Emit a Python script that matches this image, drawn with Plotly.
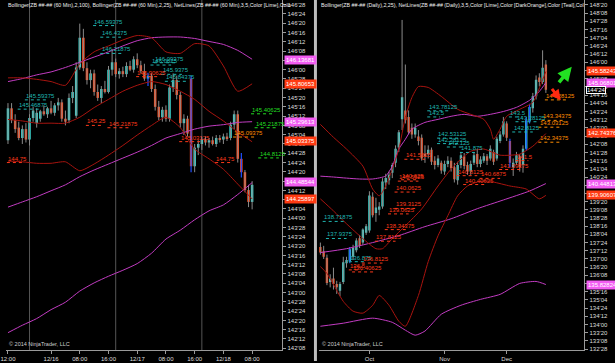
import plotly.graph_objects as go
import pandas as pd

# ================= LEFT PANEL (60 Min) =================
left_times = pd.date_range("2014-12-15 12:00", periods=69, freq="h")
left_open = [145.05,145.48,145.32,145.22,145.08,145.20,145.06,145.35,145.28,145.34,145.44,145.40,145.48,145.42,145.52,145.56,145.34,145.32,145.62,145.38,146.03,146.43,146.02,145.86,145.95,145.70,145.62,145.74,145.70,146.00,146.10,145.94,145.98,145.94,146.05,146.00,146.14,146.06,145.98,145.88,145.92,145.74,145.50,145.36,145.46,145.34,145.76,145.86,145.66,145.28,145.34,145.88,144.70,144.95,145.00,145.06,145.02,145.05,145.00,145.08,145.06,145.10,145.08,145.26,145.40,144.80,144.62,144.38,144.22]
left_high = [145.55,145.55,145.40,145.30,145.25,145.28,145.40,145.50,145.48,145.46,145.52,145.50,145.58,145.55,145.62,145.60,145.45,145.68,145.78,146.10,146.62,146.55,146.10,146.00,146.00,145.80,145.78,145.85,146.05,146.28,146.15,146.02,146.04,146.10,146.12,146.18,146.22,146.12,146.08,145.96,145.95,145.80,145.58,145.50,145.52,145.80,145.95,145.92,145.70,145.40,145.38,145.92,145.00,145.05,145.10,145.10,145.08,145.10,145.12,145.12,145.14,145.15,145.30,145.45,145.45,144.88,144.65,144.45,144.50]
left_low = [145.00,145.28,145.15,145.05,145.00,145.02,144.98,145.30,145.22,145.30,145.38,145.35,145.40,145.38,145.45,145.30,145.25,145.28,145.55,145.35,146.00,145.98,145.80,145.75,145.65,145.58,145.55,145.68,145.68,145.92,145.90,145.88,145.90,145.90,145.98,145.96,146.02,145.95,145.85,145.78,145.70,145.45,145.32,145.30,145.30,145.30,145.70,145.60,145.22,145.12,145.10,144.62,144.62,144.85,144.92,144.98,144.95,144.98,144.96,145.02,145.00,145.04,145.05,145.20,144.75,144.55,144.35,144.15,144.12]
left_close = [145.48,145.32,145.20,145.08,145.20,145.06,145.35,145.45,145.42,145.44,145.40,145.48,145.42,145.52,145.56,145.34,145.30,145.62,145.70,146.03,146.43,146.02,145.86,145.95,145.70,145.62,145.74,145.70,146.00,146.10,145.94,145.98,145.94,146.05,146.00,146.14,146.06,145.98,145.88,145.92,145.74,145.50,145.36,145.46,145.34,145.76,145.86,145.66,145.28,145.34,145.14,144.70,144.95,145.00,145.06,145.02,145.05,145.00,145.08,145.06,145.10,145.08,145.26,145.40,144.80,144.62,144.38,144.22,144.45]
left_signal_bars = [39, 51, 65]

left_band_idx = [0,4,8,12,16,20,24,28,32,36,40,44,48,52,56,60,64,68]
left_bb100_upper = [145.84,145.88,145.93,145.97,146.03,146.10,146.17,146.24,146.32,146.39,146.43,146.44,146.44,146.42,146.38,146.34,146.26,146.14]
left_bb100_mid   = [144.15,144.22,144.29,144.37,144.45,144.56,144.65,144.73,144.81,144.89,144.98,145.08,145.14,145.20,145.24,145.26,145.29,145.30]
left_bb100_lower = [142.46,142.56,142.65,142.77,142.87,143.02,143.13,143.22,143.30,143.39,143.53,143.72,143.84,143.98,144.10,144.18,144.32,144.48]
left_bb25_upper  = [145.89,145.89,145.87,145.84,145.79,146.08,146.24,146.32,146.40,146.46,146.43,146.24,146.22,146.35,146.32,146.05,145.71,145.81]
left_bb25_mid    = [145.33,145.31,145.28,145.28,145.28,145.36,145.49,145.60,145.71,145.79,145.84,145.80,145.71,145.60,145.44,145.31,145.16,145.03]
left_bb25_lower  = [144.77,144.76,144.74,144.74,144.76,144.64,144.73,144.85,144.98,145.12,145.25,145.36,145.22,144.93,144.80,144.66,144.46,144.26]

left_labels = ["145.59375","145.46875","146.59375","146.4375","146.21875","146.0625","146.09375","145.9375","145.84375",
               "145.90625","145.25","145.21875","144.75","144.75","145.03125","145.09375",
               "145.40625","145.21875","144.8125"]
left_label_bar = [5,3,24,26,26,40,41,43,44, 36,22,28,0,58,48,63, 68,69,70]
left_label_kind = ["teal"]*9 + ["red"]*6 + ["orange"] + ["lime"]*3

left_markers = ["146.13681","145.80653","145.29613","145.03375","144.48544","144.25897"]
left_marker_kind = ["magenta","red","magenta","red","magenta","red"]

# ================= RIGHT PANEL (Daily) =================
right_dates = pd.bdate_range("2014-09-10", "2014-12-17").drop(pd.Timestamp("2014-11-27"))
right_open = [137.55,137.35,137.05,135.95,136.10,135.85,135.55,135.95,136.80,136.90,137.10,137.40,137.95,137.75,138.20,138.30,139.85,139.10,139.25,139.40,140.50,140.60,140.95,141.40,142.10,143.40,143.80,143.50,143.00,142.70,142.60,142.55,141.80,141.80,142.00,141.50,141.30,141.40,141.00,141.35,141.50,141.20,140.60,141.30,141.70,141.30,141.00,141.40,141.80,141.35,141.50,141.70,141.60,141.90,141.60,142.40,142.70,143.20,142.40,141.20,141.40,141.70,141.30,142.05,143.30,143.90,144.45,145.30,145.10,145.90]
right_high = [137.75,137.60,137.20,136.30,136.60,136.00,135.95,137.10,137.10,137.55,137.65,137.95,138.10,138.40,138.60,140.10,140.05,139.80,139.60,140.70,140.90,141.00,141.40,142.20,142.90,147.94,145.90,143.80,143.20,143.20,142.90,142.70,142.20,142.20,142.10,141.70,141.75,141.50,141.50,141.70,141.65,141.40,141.45,141.90,141.85,141.45,141.50,141.90,142.00,141.70,141.85,141.80,142.20,142.00,142.60,142.85,143.50,143.30,142.50,141.60,141.90,141.80,142.20,143.50,144.10,144.60,145.40,145.50,146.55,146.10]
right_low = [137.20,137.00,135.80,135.70,135.60,135.40,135.30,135.85,136.60,136.80,136.95,137.30,137.50,137.65,138.10,138.20,138.90,138.70,139.00,139.30,140.20,140.40,140.70,141.20,141.90,142.90,143.20,142.70,142.50,142.55,142.20,141.50,141.40,141.60,141.30,141.10,141.20,140.90,140.85,141.20,141.00,140.50,140.40,141.15,141.10,140.85,140.85,141.30,141.20,141.20,141.40,141.30,141.50,141.30,141.50,142.30,142.60,142.40,141.20,140.80,141.30,141.00,140.95,141.95,143.20,143.70,144.30,144.90,145.00,144.60]
right_close = [137.30,137.10,135.90,136.10,135.85,135.70,135.85,136.85,136.95,137.45,137.50,137.85,137.60,138.35,138.50,139.90,139.00,139.35,139.40,140.55,140.70,140.85,141.30,142.05,142.80,144.40,143.35,142.80,142.70,143.00,142.40,141.60,141.70,142.00,141.45,141.30,141.60,141.05,141.35,141.50,141.15,140.65,141.30,141.75,141.25,141.00,141.35,141.75,141.35,141.55,141.70,141.50,142.05,141.45,142.50,142.70,143.30,142.55,141.40,141.40,141.75,141.20,142.05,143.35,143.95,144.45,145.20,145.10,145.75,144.75]
right_signal_bars = [9, 58, 63, 64]

right_bbA_upper_idx = [0,4,8,12,16,20,22,24,26,28,32,36,40,44,48,52,56,60,64,67,69]
right_bbA_upper = [140.79,140.75,140.70,140.66,140.66,140.80,141.25,142.03,142.48,142.94,143.25,143.39,143.53,143.62,143.53,143.62,143.75,143.94,144.26,144.67,145.07]
right_bbA_mid_idx = [0,8,16,24,32,40,48,56,64,69]
right_bbA_mid = [137.29,137.47,137.75,138.07,138.48,138.84,139.30,139.70,140.11,140.45]
right_bbA_lower_idx = [0,7,16,22,26,29,32,37,43,49,55,61,66,69]
right_bbA_lower = [133.92,134.06,134.29,134.10,133.74,133.51,133.70,134.47,134.88,135.15,135.38,135.88,135.97,135.83]
right_bbB_upper_idx = [0,4,8,13,16,18,20,22,24,26,28,30,33,37,42,46,50,52,53,55,57,61,65,68,69]
right_bbB_upper = [143.16,142.57,142.03,141.25,140.20,139.89,140.34,141.12,142.03,143.48,144.39,144.89,144.85,144.44,143.85,143.62,143.39,142.94,142.48,142.94,143.53,143.85,144.17,145.21,145.58]
right_bbB_mid_idx = [0,4,8,13,17,19,22,26,31,36,40,43,46,50,55,61,65,69]
right_bbB_mid = [139.75,139.20,138.61,137.93,137.47,137.47,137.93,138.52,139.29,140.34,141.12,141.57,141.93,142.03,141.75,141.80,142.16,142.74]
right_bbB_lower_idx = [0,2,7,10,13,16,18,21,24,26,30,33,36,39,42,45,48,51,53,58,63,67,69]
right_bbB_lower = [136.65,136.34,135.06,134.61,134.52,134.88,135.33,134.88,134.15,133.92,135.33,136.88,138.06,138.98,139.89,140.34,140.52,140.57,140.52,140.34,140.20,139.75,139.91]

right_labels = ["138.71875","137.9375","136.875","143.78125","143.5","142.53125","142.28125","142.125","141.875","143.5","143.28125","142.8125",
                "141.5625","140.625","140.5625","140.0625","139.3125","139.0625","138.34375","137.8125","136.8125","136.5","136.40625",
                "140.8125","140.6875","140.40625","141.5","141.09375",
                "142.34375","143.03125","143.34375","144.28125"]
right_label_bar = [1,2,9,33,33,36,36,39,43,58,60,59, 26,25,24,23,23,21,20,17,13,9,10, 42,49,44,60,55, 67,67,68,69]
right_label_kind = ["teal"]*12 + ["red"]*16 + ["orange"]*4

right_markers = ["145.58243","145.06801","142.74376","140.44813","139.90607","135.82824"]
right_marker_kind = ["red","magenta","red","magenta","red","magenta"]
right_last_price = "144'24"

# ================= STYLE =================
C_UP = "#3ad6cf"
C_DN = "#ff4a1c"
C_WICK = "#8a8a8a"
C_SIG = "#2050ff"
C_PURPLE = "#c23cc2"
C_DRED = "#a8140f"
LABEL_COL = {"teal": "#1fb5b0", "red": "#ff3a1a", "orange": "#ff8c00", "lime": "#22dd22"}
MARK_COL = {"magenta": "#f25cf2", "red": "#ff3a12"}
FONT = "Liberation Sans"

W, H = 615, 363
L_DOM = (0.0, 279 / W)
R_DOM = (316 / W, 584 / W)
Y_DOM = (11 / H, 1.0)


def p32(p):
    w = int(p)
    t = int(round((p - w) * 32))
    if t == 32:
        w, t = w + 1, 0
    return f"{w}'{t:02d}"


def frange(a, b, s):
    out, v = [], a
    while v <= b + 1e-9:
        out.append(round(v, 6))
        v += s
    return out


fig = go.Figure()


def add_candles(o, h, l, c, sig, xa, ya, width):
    n = len(o)
    idx = list(range(n))
    wx, wy, sx, sy = [], [], [], []
    for i in idx:
        if i in sig:
            sx += [i, i, None]
            sy += [l[i], h[i], None]
        else:
            wx += [i, i, None]
            wy += [l[i], h[i], None]
    fig.add_trace(go.Scatter(x=wx, y=wy, mode="lines", line=dict(color=C_WICK, width=1),
                             xaxis=xa, yaxis=ya, hoverinfo="skip", showlegend=False))
    base = [min(o[i], c[i]) for i in idx]
    hgt = [max(abs(c[i] - o[i]), 0.004) for i in idx]
    cols = [C_UP if c[i] >= o[i] else C_DN for i in idx]
    fig.add_trace(go.Bar(x=idx, y=hgt, base=base, width=width, marker=dict(color=cols, line=dict(width=0)),
                         xaxis=xa, yaxis=ya, hoverinfo="skip", showlegend=False))
    fig.add_trace(go.Scatter(x=sx, y=sy, mode="lines", line=dict(color=C_SIG, width=1.2),
                             xaxis=xa, yaxis=ya, hoverinfo="skip", showlegend=False))


def add_band(xs, ys, color, xa, ya):
    fig.add_trace(go.Scatter(x=xs, y=ys, mode="lines", line=dict(color=color, width=1, shape="spline", smoothing=0.6),
                             xaxis=xa, yaxis=ya, hoverinfo="skip", showlegend=False))


def add_labels(texts, bars, kinds, xa, ya, ppb):
    groups = {}
    for t, b, k in zip(texts, bars, kinds):
        v = float(t)
        ln = len(t) * 2.6 / ppb
        g = groups.setdefault(k, ([], []))
        g[0].extend([b - 0.3, b - 0.3 + ln, None])
        g[1].extend([v, v, None])
        fig.add_annotation(x=b - 0.5, y=v, xref=xa, yref=ya, text=t, showarrow=False,
                           xanchor="left", yanchor="bottom", yshift=-1,
                           font=dict(family=FONT, size=6, color=LABEL_COL[k]))
    for k, (gx, gy) in groups.items():
        fig.add_trace(go.Scatter(x=gx, y=gy, mode="lines", line=dict(color=LABEL_COL[k], width=1, dash="dot"),
                                 xaxis=xa, yaxis=ya, hoverinfo="skip", showlegend=False))


def add_markers(texts, kinds, xpaper, ya):
    for t, k in zip(texts, kinds):
        fig.add_annotation(x=xpaper, y=float(t), xref="paper", yref=ya, text=t, showarrow=False,
                           xanchor="left", yanchor="middle", bgcolor=MARK_COL[k], borderpad=1,
                           font=dict(family=FONT, size=6, color="white"))


# ---- left ----
add_candles(left_open, left_high, left_low, left_close, left_signal_bars, "x", "y", 0.7)
for arr, col in [(left_bb100_upper, C_PURPLE), (left_bb100_mid, C_PURPLE), (left_bb100_lower, C_PURPLE),
                 (left_bb25_upper, C_DRED), (left_bb25_mid, C_DRED), (left_bb25_lower, C_DRED)]:
    add_band(left_band_idx, arr, col, "x", "y")
add_labels(left_labels, left_label_bar, left_label_kind, "x", "y", 3.625)
add_markers(left_markers, left_marker_kind, L_DOM[1] + 0.003, "y")

# ---- right ----
add_candles(right_open, right_high, right_low, right_close, right_signal_bars, "x2", "y2", 0.72)
for xs, arr, col in [(right_bbA_upper_idx, right_bbA_upper, C_PURPLE), (right_bbA_mid_idx, right_bbA_mid, C_PURPLE),
                     (right_bbA_lower_idx, right_bbA_lower, C_PURPLE),
                     (right_bbB_upper_idx, right_bbB_upper, C_DRED), (right_bbB_mid_idx, right_bbB_mid, C_DRED),
                     (right_bbB_lower_idx, right_bbB_lower, C_DRED)]:
    add_band(xs, arr, col, "x2", "y2")
add_labels(right_labels, right_label_bar, right_label_kind, "x2", "y2", 3.3)
add_markers(right_markers, right_marker_kind, R_DOM[1] + 0.003, "y2")
lp_w, lp_t = right_last_price.split("'")
fig.add_annotation(x=R_DOM[1] + 0.003, y=int(lp_w) + int(lp_t) / 32, xref="paper", yref="y2", text=right_last_price,
                   showarrow=False, xanchor="left", yanchor="middle", bgcolor="black", bordercolor="white",
                   borderwidth=1, borderpad=0, font=dict(family=FONT, size=6, color="white"))

# arrows in right panel
fig.add_annotation(x=0.929, y=0.815, xref="paper", yref="paper", ax=-14, ay=17, text="", showarrow=True,
                   arrowhead=2, arrowsize=0.8, arrowwidth=3.5, arrowcolor="#22e022")
fig.add_annotation(x=0.911, y=0.722, xref="paper", yref="paper", ax=-10, ay=-13, text="", showarrow=True,
                   arrowhead=2, arrowsize=0.7, arrowwidth=3, arrowcolor="#ff2a10")

# ---- axes ----
l_ticks = frange(142.25, 146.875, 0.125)
r_ticks = frange(132.875, 148.625, 0.375)

l_tv, l_tt = [0], [left_times[0].strftime("%H:%M")]
for i, t in enumerate(left_times):
    if t.minute == 0 and t.hour in (0, 8, 16) and t >= pd.Timestamp("2014-12-16"):
        l_tv.append(i)
        l_tt.append(t.strftime("%m/%d") if t.hour == 0 else t.strftime("%H:%M"))
r_tv, r_tt = [], []
for i, d in enumerate(right_dates):
    if i > 0 and d.month != right_dates[i - 1].month:
        r_tv.append(i)
        r_tt.append(d.strftime("%b"))

axis_common = dict(showgrid=False, zeroline=False, showline=True, linecolor="#9a9a9a", linewidth=1,
                   ticks="outside", ticklen=3, tickcolor="#9a9a9a", ticklabeloverflow="allow",
                   tickfont=dict(family=FONT, size=6, color="#dddddd"))

fig.update_layout(
    width=W, height=H, margin=dict(l=0, r=0, t=0, b=0),
    paper_bgcolor="black", plot_bgcolor="black", showlegend=False, barmode="overlay",
    xaxis=dict(domain=list(L_DOM), range=[-0.55, 76.4], tickvals=l_tv, ticktext=l_tt, anchor="y", **axis_common),
    yaxis=dict(domain=list(Y_DOM), range=[142.226, 146.938], side="right", anchor="x",
               tickvals=l_ticks, ticktext=[p32(v) for v in l_ticks], **axis_common),
    xaxis2=dict(domain=list(R_DOM), range=[-0.45, 80.76], tickvals=r_tv, ticktext=r_tt, anchor="y2", **axis_common),
    yaxis2=dict(domain=list(Y_DOM), range=[132.83, 148.853], side="right", anchor="x2",
                tickvals=r_ticks, ticktext=[p32(v) for v in r_ticks], **axis_common),
)

# session dividers (left)
for i, t in enumerate(left_times):
    if t.hour == 18:
        fig.add_shape(type="line", xref="x", yref="paper", x0=i, x1=i, y0=Y_DOM[0], y1=1,
                      line=dict(color="#555555", width=1), layer="below")

# panel splitter
fig.add_shape(type="rect", xref="paper", yref="paper", x0=311 / W, x1=314 / W, y0=0, y1=1,
              fillcolor="#bdbdbd", line=dict(width=0))

# header texts & copyright
fig.add_annotation(x=0.0, y=1.0, xref="paper", yref="paper", xanchor="left", yanchor="top", showarrow=False,
                   text="Bollinger(ZB ##-## (60 Min),2,100), Bollinger(ZB ##-## (60 Min),2,25), NetLines(ZB ##-## (60 Min),3,5,Color [Lime],Colo",
                   font=dict(family=FONT, size=5.3, color="#f0f0f0"))
fig.add_annotation(x=R_DOM[0], y=1.0, xref="paper", yref="paper", xanchor="left", yanchor="top", showarrow=False,
                   text="Bollinger(ZB ##-## (Daily),2,25), NetLines(ZB ##-## (Daily),3,5,Color [Lime],Color [DarkOrange],Color [Teal],Col",
                   font=dict(family=FONT, size=5.3, color="#f0f0f0"))
for xp in (0.002, R_DOM[0] + 0.002):
    fig.add_annotation(x=xp, y=Y_DOM[0] + 0.004, xref="paper", yref="paper", xanchor="left", yanchor="bottom",
                       showarrow=False, text="© 2014 NinjaTrader, LLC",
                       font=dict(family=FONT, size=5.5, color="#cfcfcf"))

fig.write_html("out.html", config={"displayModeBar": False},
               post_script="document.body.style.margin='0';document.body.style.padding='0';")
